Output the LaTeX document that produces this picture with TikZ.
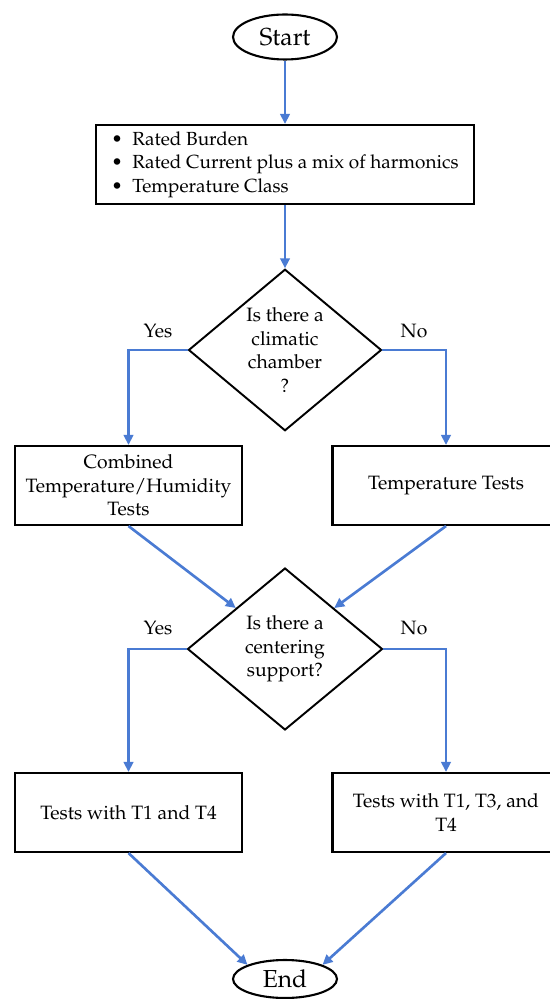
\documentclass[tikz,border=0pt]{standalone}
\usepackage[T1]{fontenc}
\usepackage{mathpazo}
\usepackage{xcolor}
\usepackage{tikz}
\usetikzlibrary{arrows.meta,positioning,shapes.geometric}
\definecolor{flowblue}{HTML}{4A7BD3}
\newcommand{\bul}{\makebox[0.42cm][l]{\textbullet}}
\tikzset{
  term/.style={ellipse,draw,line width=1.2pt,minimum width=2.08cm,minimum height=0.9cm,inner sep=0pt,font=\fontsize{14}{16}\selectfont},
  stepbox/.style={rectangle,draw,line width=1.2pt,minimum width=4.54cm,minimum height=1.58cm,inner sep=2pt,align=center,font=\fontsize{11}{13.3}\selectfont},
  decide/.style={diamond,draw,line width=1.1pt,inner sep=0pt,align=center,font=\fontsize{11}{13.3}\selectfont},
  flow/.style={line width=1.5pt,flowblue,-{Triangle[length=2mm,width=1.9mm]}},
  lab/.style={font=\fontsize{11}{13.3}\selectfont}
}
\begin{document}
\begin{tikzpicture}[x=0.02cm,y=-0.02cm]
  \useasboundingbox (0,0) rectangle (550,999);
  \node[term] (start) at (285,37) {Start};
  \node[stepbox,minimum width=7.56cm,inner xsep=0pt,align=left,font=\fontsize{10.8}{13.3}\selectfont] (inputs) at (285,164.5)
    {\bul Rated Burden\\\bul Rated Current plus a mix of harmonics\\\bul Temperature Class};
  \node[decide,minimum width=3.86cm,minimum height=3.2cm] (chamber) at (285,350) {Is there a\\climatic\\chamber\\?};
  \node[stepbox] (combined) at (128.5,485.5) {Combined\\Temperature/Humidity\\Tests};
  \node[stepbox] (temptests) at (446,485.5) {Temperature Tests};
  \node[decide,minimum width=3.9cm,minimum height=3.24cm] (centering) at (285,649) {Is there a\\centering\\support?};
  \node[stepbox] (tone) at (128.5,812.5) {Tests with T1 and T4};
  \node[stepbox] (tthree) at (446,812.5) {Tests with T1, T3, and\\T4};
  \node[term,minimum height=0.76cm] (finish) at (285,979) {End};

  \node[lab] (yesA) at (158,331) {Yes};
  \node[lab] (noA) at (414,331) {No};
  \node[lab] (yesB) at (158,628) {Yes};
  \node[lab] (noB) at (414,628) {No};

  \draw[flow] (start) -- (inputs);
  \draw[flow] (inputs) -- (chamber);
  \draw[flow] (chamber.west) -| (combined.north);
  \draw[flow] (chamber.east) -| (temptests.north);
  \draw[flow] (combined.south) -- (centering.north west);
  \draw[flow] (temptests.south) -- (centering.north east);
  \draw[flow] (centering.west) -| (tone.north);
  \draw[flow] (centering.east) -| (tthree.north);
  \draw[flow] (tone.south) -- (finish.north west);
  \draw[flow] (tthree.south) -- (finish.north east);
\end{tikzpicture}
\end{document}
